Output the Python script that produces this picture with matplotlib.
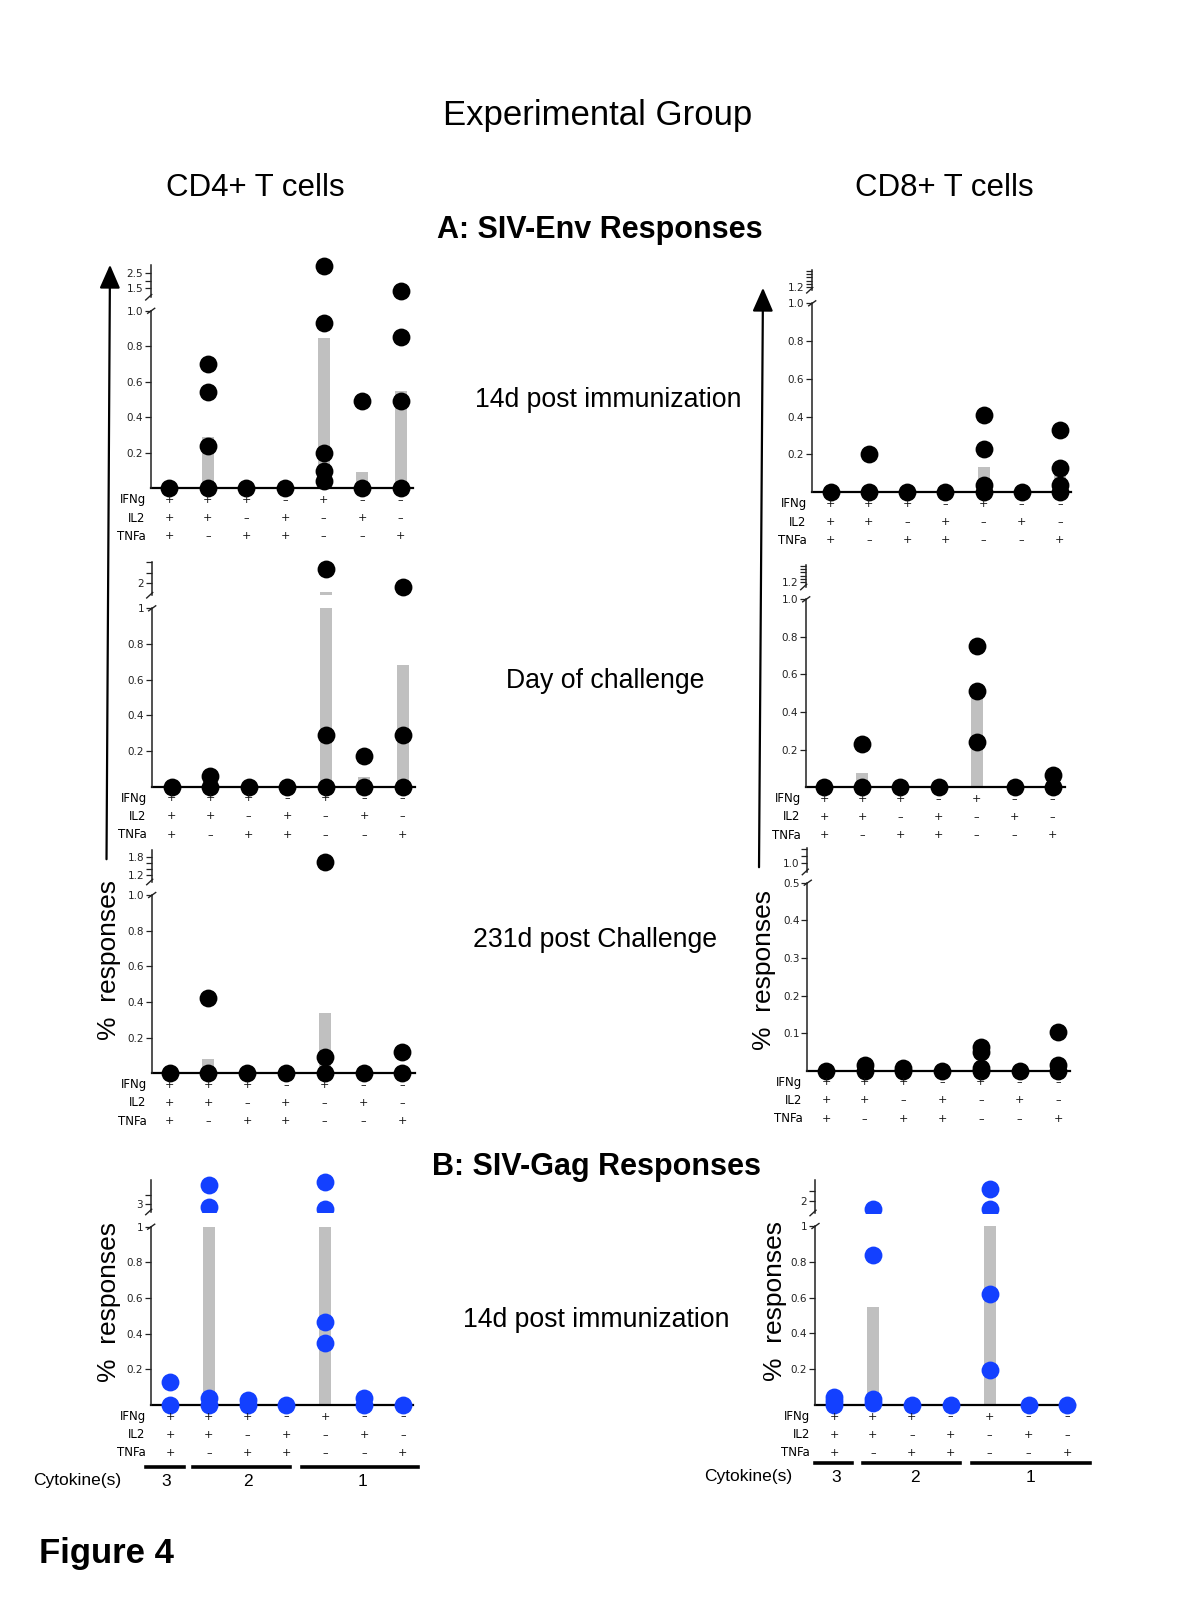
import matplotlib
matplotlib.use('Agg')
import matplotlib.pyplot as plt
from matplotlib.lines import Line2D
from matplotlib.patches import FancyArrowPatch
from matplotlib.transforms import blended_transform_factory

W, H = 1200, 1600
plt.rcParams['font.family'] = ['Liberation Sans', 'DejaVu Sans']

# ---------------- data ----------------
IFNG = ['+', '+', '+', '–', '+', '–', '–']
IL2 = ['+', '+', '–', '+', '–', '+', '–']
TNFA = ['+', '–', '+', '+', '–', '–', '+']
ROW_NAMES = ['IFNg', 'IL2', 'TNFa']
CYTO_GROUPS = ['3', '2', '1']

env_cd4_14d_pts = [[0], [0.70, 0.54, 0.24, 0], [0], [0], [3.0, 0.93, 0.20, 0.10, 0.04], [0.49, 0], [1.35, 0.85, 0.49, 0]]
env_cd4_14d_bar = [0, 0.29, 0, 0, 0.845, 0.093, 0.55]
env_cd8_14d_pts = [[0], [0.20, 0], [0], [0], [0.41, 0.23, 0.04, 0], [0], [0.33, 0.13, 0.04, 0]]
env_cd8_14d_bar = [0, 0.034, 0, 0, 0.134, 0, 0.097]
env_cd4_doc_pts = [[0], [0.06, 0], [0], [0], [2.68, 0.29, 0], [0.17, 0], [1.81, 0.29, 0]]
env_cd4_doc_bar = [0, 0, 0, 0, 1.6, 0.056, 0.68]
env_cd8_doc_pts = [[0], [0.23, 0], [0], [0], [0.75, 0.51, 0.24], [0], [0.064, 0]]
env_cd8_doc_bar = [0, 0.078, 0, 0, 0.51, 0, 0]
env_cd4_231_pts = [[0], [0.42, 0], [0], [0], [1.64, 0.093, 0], [0], [0.118, 0]]
env_cd4_231_bar = [0, 0.079, 0, 0, 0.336, 0, 0]
env_cd8_231_pts = [[0], [0.015, 0], [0.006, 0], [0], [0.064, 0.05, 0.006, 0], [0], [0.103, 0.015, 0]]
env_cd8_231_bar = [0, 0, 0, 0, 0, 0, 0]
gag_cd4_14d_pts = [[0.131, 0], [4.04, 2.87, 0.037, 0], [0.03, 0], [0], [4.21, 2.75, 0.467, 0.346], [0.037, 0], [0]]
gag_cd4_14d_bar = [0, 1.73, 0, 0, 1.94, 0, 0]
gag_cd8_14d_pts = [[0.047, 0.02, 0], [1.6, 0.838, 0.032, 0.01], [0], [0], [2.58, 1.6, 0.62, 0.196], [0], [0]]
gag_cd8_14d_bar = [0, 0.55, 0, 0, 1.25, 0, 0]

# ---------------- styling ----------------
BAR = '#c0c0c0'
BLACK = '#000000'
BLUE = '#1340ff'
DOT = 165
SMALL = 'DejaVu Sans'

fig = plt.figure(figsize=(12, 16), dpi=100)


def fx(x):
    return x / W


def fy(y):
    return 1 - y / H


def add_ax(x0, ytop, x1, ybot):
    a = fig.add_axes([fx(x0), fy(ybot), (x1 - x0) / W, (ybot - ytop) / H])
    a.patch.set_visible(False)
    return a


def fig_line(x0, y0, x1, y1, **kw):
    fig.add_artist(Line2D([fx(x0), fx(x1)], [fy(y0), fy(y1)], transform=fig.transFigure, **kw))


def fig_text(x, y, s, **kw):
    fig.text(fx(x), fy(y), s, **kw)


def style_ticks(a, ticks, labels):
    a.set_yticks(ticks)
    a.set_yticklabels(labels)
    a.tick_params(axis='y', length=4, width=0.9, pad=1.5, labelsize=7.5, color='#222222', labelcolor='#222222')
    for lab in a.get_yticklabels():
        lab.set_family(SMALL)
    a.set_xticks([])


def panel(pts, bars, L, color, clip_upper=False, groups=None):
    sx, c1, sp, R = L['sx'], L['c1'], L['sp'], L['R']
    base, top, top_val = L['base'], L['top'], L['top_val']
    xl = ((sx - c1) / sp, (R - c1) / sp)
    xs = list(range(len(bars)))
    mx, my, ux, uy = [], [], [], []
    for i, col in enumerate(pts):
        for v in col:
            if v <= top_val:
                mx.append(i); my.append(v)
            else:
                ux.append(i); uy.append(v)

    # main axes
    ax = add_ax(sx, top, R, base)
    ax.set_xlim(*xl)
    ax.set_ylim(0, top_val)
    ax.bar(xs, bars, width=12 / sp, color=BAR, zorder=1, linewidth=0)
    ax.scatter(mx, my, s=DOT, color=color, clip_on=False, zorder=3, linewidths=0)
    for k in ['top', 'right']:
        ax.spines[k].set_visible(False)
    ax.spines['left'].set_color('#222222')
    ax.spines['left'].set_linewidth(1.1)
    ax.spines['bottom'].set_color(BLACK)
    ax.spines['bottom'].set_linewidth(1.6)
    ax.spines['bottom'].set_zorder(2)
    style_ticks(ax, L['ticks'], L['labels'])

    # upper (broken) axes
    ref_v, ref_p, k, ub, ust = L['u_ref_v'], L['u_ref_p'], L['u_k'], L['ub'], L['u_top']

    def val(p):
        return ref_v + (ref_p - p) * k

    box_top = ust - 16
    uax = add_ax(sx, box_top, R, ub)
    uax.set_xlim(*xl)
    uax.set_ylim(val(ub), val(box_top))
    uax.bar(xs, bars, width=12 / sp, color=BAR, zorder=1, linewidth=0)
    uax.scatter(ux, uy, s=DOT, color=color, clip_on=clip_upper, zorder=3, linewidths=0)
    for kk in ['top', 'right', 'bottom']:
        uax.spines[kk].set_visible(False)
    uax.spines['left'].set_bounds(val(ub), val(ust))
    uax.spines['left'].set_color('#222222')
    uax.spines['left'].set_linewidth(1.1)
    style_ticks(uax, L['u_ticks'], L['u_labels'])

    # break marks
    fig_line(sx - 3, top + 2.5, sx + 4, top - 2.5, color='#222222', lw=1.0)
    fig_line(sx - 5, ub + 3, sx + 1, ub - 2.5, color='#222222', lw=1.0)

    # combination rows
    tr = blended_transform_factory(ax.transData, fig.transFigure)
    for r, (name, row) in enumerate(zip(ROW_NAMES, [IFNG, IL2, TNFA])):
        y = base + 11.5 + r * 18.2
        fig_text(sx - 5, y, name, ha='right', va='center', fontsize=8.5, family=SMALL)
        for i, sym in enumerate(row):
            ax.text(i, fy(y), sym, transform=tr, ha='center', va='center',
                    fontsize=8, family=SMALL, color='#111111', zorder=6)

    if groups is not None:
        gy = base + groups['dy']
        for (a0, a1), lab, cx in zip(groups['spans'], CYTO_GROUPS, groups['centers']):
            ax.add_artist(Line2D([a0, a1], [fy(gy), fy(gy)], transform=tr, color=BLACK, lw=2.6,
                                 clip_on=False))
            ax.text(cx, fy(gy + 14.5), lab, transform=tr, ha='center', va='center', fontsize=12.5)
    return ax


# ---------------- layouts (pixel geometry) ----------------
L1 = dict(sx=150.7, c1=169.3, sp=38.57, R=413, base=488.3, top=310.8, top_val=1.0,
          ticks=[0.2, 0.4, 0.6, 0.8, 1.0], labels=['0.2', '0.4', '0.6', '0.8', '1.0'],
          u_ref_v=2.5, u_ref_p=273.3, u_k=1 / 15, ub=297, u_top=265,
          u_ticks=[1.5, 2.0, 2.5], u_labels=['1.5', '', '2.5'])
L2 = dict(sx=811.7, c1=830.7, sp=38.2, R=1071, base=492.3, top=303.3, top_val=1.0,
          ticks=[0.2, 0.4, 0.6, 0.8, 1.0], labels=['0.2', '0.4', '0.6', '0.8', '1.0'],
          u_ref_v=1.2, u_ref_p=287.3, u_k=0.2 / 3.3, ub=290, u_top=270,
          u_ticks=[1.2, 1.4, 1.6, 1.8, 2.0, 2.2], u_labels=['1.2', '', '', '', '', ''])
L3 = dict(sx=151.7, c1=171.7, sp=38.5, R=415, base=786.7, top=608.3, top_val=1.0,
          ticks=[0.2, 0.4, 0.6, 0.8, 1.0], labels=['0.2', '0.4', '0.6', '0.8', '1'],
          u_ref_v=2.0, u_ref_p=583.3, u_k=0.5 / 10.5, ub=595, u_top=561.7,
          u_ticks=[2.0, 2.5, 3.0], u_labels=['2', '', ''])
L4 = dict(sx=805.7, c1=824.3, sp=38.07, R=1065, base=787.3, top=599.3, top_val=1.0,
          ticks=[0.2, 0.4, 0.6, 0.8, 1.0], labels=['0.2', '0.4', '0.6', '0.8', '1.0'],
          u_ref_v=1.2, u_ref_p=582.3, u_k=0.2 / 3.3, ub=586.7, u_top=565,
          u_ticks=[1.2, 1.4, 1.6, 1.8, 2.0, 2.2], u_labels=['1.2', '', '', '', '', ''])
L5 = dict(sx=151.7, c1=169.5, sp=38.8, R=415, base=1073.3, top=895, top_val=1.0,
          ticks=[0.2, 0.4, 0.6, 0.8, 1.0], labels=['0.2', '0.4', '0.6', '0.8', '1.0'],
          u_ref_v=1.8, u_ref_p=856.7, u_k=0.2 / 6.1, ub=881.7, u_top=850,
          u_ticks=[1.2, 1.4, 1.6, 1.8], u_labels=['1.2', '', '', '1.8'])
L6 = dict(sx=807.3, c1=826, sp=38.7, R=1070, base=1070.7, top=882.7, top_val=0.5,
          ticks=[0.1, 0.2, 0.3, 0.4, 0.5], labels=['0.1', '0.2', '0.3', '0.4', '0.5'],
          u_ref_v=1.0, u_ref_p=862.7, u_k=1 / 13.7, ub=871.7, u_top=848.3,
          u_ticks=[1.0, 1.5, 2.0], u_labels=['1.0', '', ''])
L7 = dict(sx=150.7, c1=170, sp=38.8, R=413, base=1405, top=1226.7, top_val=1.0,
          ticks=[0.2, 0.4, 0.6, 0.8, 1.0], labels=['0.2', '0.4', '0.6', '0.8', '1'],
          u_ref_v=3.0, u_ref_p=1204.3, u_k=0.5 / 9.3, ub=1211.7, u_top=1180,
          u_ticks=[3.0, 3.5], u_labels=['3', ''])
L8 = dict(sx=815, c1=834, sp=38.9, R=1075, base=1405, top=1226, top_val=1.0,
          ticks=[0.2, 0.4, 0.6, 0.8, 1.0], labels=['0.2', '0.4', '0.6', '0.8', '1'],
          u_ref_v=2.0, u_ref_p=1201, u_k=0.5 / 10.3, ub=1212.7, u_top=1180,
          u_ticks=[2.0, 2.5], u_labels=['2', ''])

G7 = dict(dy=61.7, spans=[(-0.62, 0.35), (0.6, 3.08), (3.4, 6.4)], centers=[-0.1, 2.0, 4.95])
G8 = dict(dy=58, spans=[(-0.5, 0.45), (0.75, 3.23), (3.55, 6.57)], centers=[0.05, 2.08, 5.05])

panel(env_cd4_14d_pts, env_cd4_14d_bar, L1, BLACK)
panel(env_cd8_14d_pts, env_cd8_14d_bar, L2, BLACK)
panel(env_cd4_doc_pts, env_cd4_doc_bar, L3, BLACK)
panel(env_cd8_doc_pts, env_cd8_doc_bar, L4, BLACK)
panel(env_cd4_231_pts, env_cd4_231_bar, L5, BLACK)
panel(env_cd8_231_pts, env_cd8_231_bar, L6, BLACK)
panel(gag_cd4_14d_pts, gag_cd4_14d_bar, L7, BLUE, clip_upper=True, groups=G7)
panel(gag_cd8_14d_pts, gag_cd8_14d_bar, L8, BLUE, clip_upper=True, groups=G8)

# ---------------- arrows ----------------
for (x0, y0, x1, y1) in [(106.5, 862, 110, 262), (759, 870, 763, 285)]:
    fig.add_artist(FancyArrowPatch((fx(x0), fy(y0)), (fx(x1), fy(y1)), transform=fig.transFigure,
                                   arrowstyle='-|>,head_length=0.8,head_width=0.35',
                                   mutation_scale=18, lw=1.6, color=BLACK))

# ---------------- text ----------------
fig_text(598, 116, 'Experimental Group', ha='center', va='center', fontsize=25)
fig_text(255, 188, 'CD4+ T cells', ha='center', va='center', fontsize=22.5)
fig_text(944, 188, 'CD8+ T cells', ha='center', va='center', fontsize=22.5)
fig_text(600, 230, 'A: SIV-Env Responses', ha='center', va='center', fontsize=22, fontweight='bold')
fig_text(597, 1167, 'B: SIV-Gag Responses', ha='center', va='center', fontsize=22, fontweight='bold')
fig_text(608, 400, '14d post immunization', ha='center', va='center', fontsize=19.2)
fig_text(605, 681, 'Day of challenge', ha='center', va='center', fontsize=19.2)
fig_text(595, 940, '231d post Challenge', ha='center', va='center', fontsize=19.2)
fig_text(596, 1320, '14d post immunization', ha='center', va='center', fontsize=19.2)

for (x, y) in [(109, 960), (764, 970), (109, 1302), (775, 1301)]:
    fig_text(x, y, '%  responses', ha='center', va='center', rotation=90, fontsize=19)

fig_text(77, 1481, 'Cytokine(s)', ha='center', va='center', fontsize=12.5)
fig_text(748, 1477, 'Cytokine(s)', ha='center', va='center', fontsize=12.5)
fig_text(39, 1554, 'Figure 4', ha='left', va='center', fontsize=25, fontweight='bold')

fig.savefig('out.png', dpi=100)
